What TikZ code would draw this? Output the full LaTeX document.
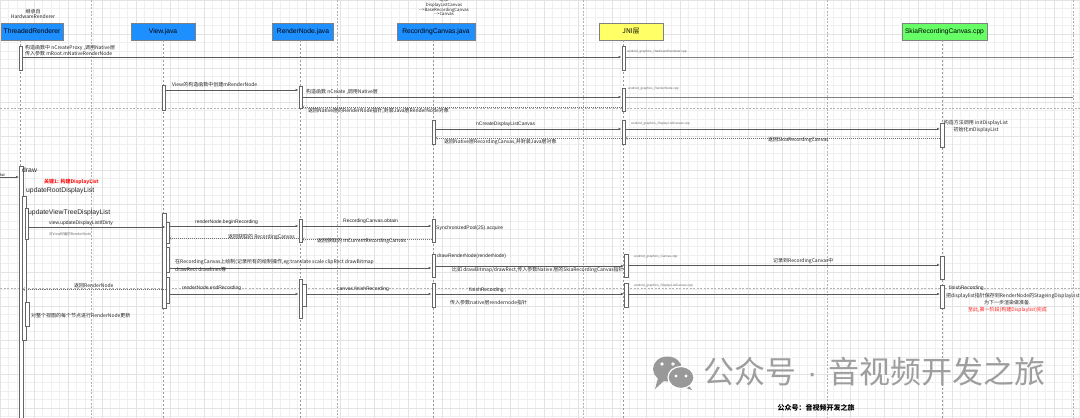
\documentclass[tikz,border=0pt]{standalone}
\usepackage{fontspec}
\setmainfont{Liberation Sans}
\newfontfamily\cjk{Noto Sans CJK SC}
\usetikzlibrary{arrows.meta,positioning}
\definecolor{HeadBlue}{HTML}{1E8FFF}
\definecolor{HeadYellow}{HTML}{FFFF66}
\definecolor{HeadGreen}{HTML}{66FF66}
\definecolor{KeyRed}{HTML}{FF1A1A}
\newcommand\fsz[1]{\fontsize{#1}{#1}\selectfont}

\tikzset{
  head/.style={draw=black!50, minimum height=17pt, inner sep=0pt, font=\fsz{6.7}},
  life/.style={draw=black!40, dash pattern=on 2pt off 2pt, line width=0.4pt},
  pagebreak/.style={draw=black!30, dash pattern=on 2pt off 1.5pt, line width=0.4pt},
  act/.style={draw=black!60, fill=white, minimum width=3.6pt, inner sep=0pt, line width=0.4pt},
  msg/.style={draw=black!65, line width=0.5pt, -{Latex[length=3pt,width=2.4pt]}},
  wire/.style={draw=black!50, line width=0.5pt},
  ret/.style={draw=black!55, dash pattern=on 1pt off 1pt, line width=0.4pt, -{Straight Barb[length=1.6pt,width=3.2pt]}},
  lbl/.style={anchor=west, inner sep=0pt, font={\cjk\fsz{5}}, text=black!85},
  lat/.style={anchor=west, inner sep=0pt, font=\fsz{5}, text=black!85},
  tiny/.style={anchor=west, inner sep=0pt, font=\fsz{3.2}, text=black!60},
  big/.style={anchor=west, inner sep=0pt, font=\fsz{6.8}, text=black!85},
  key/.style={anchor=west, inner sep=0pt, font={\cjk\bfseries\fsz{5}}, text=KeyRed},
}

\begin{document}
\begin{tikzpicture}[x=1pt,y=-1pt,>=Latex]
  \useasboundingbox (0,0) rectangle (1080,418);
  \fill[white] (0,0) rectangle (1080,418);
  % background grid and page breaks
  \draw[black!6, step=8.5pt, line width=0.3pt] (0pt,0pt) grid (1080pt,-418pt);
  \draw[black!11, step=34pt, line width=0.3pt] (0pt,0pt) grid (1080pt,-418pt);
  \foreach \px in {91,337,583,827,1073}
    \draw[pagebreak] (\px,0) -- (\px,418);
  \foreach \py in {108,288}
    \draw[pagebreak] (0,\py) -- (1080,\py);

  % lifeline heads
  \node[head, fill=HeadBlue, minimum width=62pt] (hTR) at (32,31.5) {ThreadedRenderer};
  \node[head, fill=HeadBlue, minimum width=64pt] (hView) at (163,31.5) {View.java};
  \node[head, fill=HeadBlue, minimum width=61pt] (hRN) at (303,31.5) {RenderNode.java};
  \node[head, fill=HeadBlue, minimum width=78pt] (hRC) at (436,31.5) {RecordingCanvas.java};
  \node[head, fill=HeadYellow, minimum width=64pt, font={\cjk\fsz{6.7}}] (hJNI) at (631,31.5) {JNI层};
  \node[head, fill=HeadGreen, minimum width=85pt] (hSkia) at (944.5,31.5) {SkiaRecordingCanvas.cpp};

  \node[font={\cjk\fsz{5}}, align=center, inner sep=0pt, text=black!85] (extTR) at (33,13.5) {继承自\\HardwareRenderer};
  \node[font={\cjk\fsz{4.3}}, align=center, inner sep=0pt, text=black!85] (extRC) at (444,7) {继承\\DisplayListCanvas\\-->BaseRecordingCanvas\\-->Canvas};

  % lifelines
  \coordinate (lTR) at (20.5,40);
  \draw[life] (lTR) -- (20.5,418);
  \foreach \h/\lx in {hView/163.5,hRN/300.5,hRC/433.5,hJNI/623.5,hSkia/942}
    \draw[life] (\lx,40) -- (\lx,418);

  % activations
  \node[act, minimum height=24pt] (trA) at (20.5,58) {};
  \node[act, minimum height=254pt] (trB) at (21,293) {};
  \node[act, minimum height=144pt] (trC) at (24,268) {};
  \node[act, minimum height=31pt] (trD) at (26.5,223.5) {};
  \node[act, minimum height=24pt] (trE) at (27,314) {};

  \node[act, minimum height=25pt] (vA) at (163.5,97.5) {};
  \node[act, minimum height=95pt] (vB) at (164,260.5) {};
  \node[act, minimum height=21pt] (vC) at (167.5,232.5) {};
  \node[act, minimum height=25pt] (vD) at (167.5,259.5) {};
  \node[act, minimum height=26pt] (vE) at (167.5,290) {};

  \node[act, minimum height=22pt] (rA) at (300.5,97) {};
  \node[act, minimum height=23pt] (rB) at (300.5,230.5) {};
  \node[act, minimum height=39pt] (rC) at (300.5,298.5) {};
  \node[act, minimum height=22pt] (rD) at (304,295) {};

  \node[act, minimum height=24pt] (cA) at (433.5,132) {};
  \node[act, minimum height=23pt] (cB) at (433.5,230.5) {};
  \node[act, minimum height=23pt] (cC) at (433.5,265.5) {};
  \node[act, minimum height=24pt] (cD) at (433.5,295) {};

  \node[act, minimum height=24pt] (jA) at (623.5,58) {};
  \node[act, minimum height=23pt] (jB) at (623.5,99.5) {};
  \node[act, minimum height=24pt] (jC) at (623.5,132) {};
  \node[act, minimum height=23pt] (jD) at (626,265.5) {};
  \node[act, minimum height=24pt] (jE) at (626,295) {};

  \node[act, minimum height=24pt] (sA) at (942,135) {};
  \node[act, minimum height=23pt] (sB) at (942,267.5) {};
  \node[act, minimum height=23pt] (sC) at (942,296.5) {};

  % construction
  \coordinate (edgeA) at (1073,57);
  \coordinate (edgeB) at (1073,97);
  \draw[msg] (trA.east |- 0,57) -- (jA.west |- 0,57);
  \draw[wire] (jA.east |- edgeA) -- (edgeA);
  \node[lbl] (m1a) at (25,48) {构造函数中 nCreateProxy ,调用Native层};
  \node[lbl] (m1b) at (25,54) {传入参数 mRoot.mNativeRenderNode};
  \node[tiny] (jniA) at (627,52) {android\_graphics\_HardwareRenderer.cpp};

  \draw[msg] (vA.east |- 0,90) -- (rA.west |- 0,90);
  \node[lbl] (m2) at (172,85) {View的构造函数中创建mRenderNode};
  \draw[msg] (rA.east |- 0,97) -- (jB.west |- 0,97);
  \draw[wire] (jB.east |- edgeB) -- (edgeB);
  \node[lbl] (m3) at (306,92) {构造函数 nCreate ,调用Native层};
  \node[tiny] (jniB) at (628,89) {android\_graphics\_RenderNode.cpp};
  \draw[ret] (jB.west |- 0,107) -- (rA.east |- 0,107);
  \node[lbl] (m4) at (308,111) {返回Native层的RenderNode指针,封装Java层RenderNode对象};

  \draw[msg] (cA.east |- 0,129) -- (jC.west |- 0,129);
  \draw[msg] (jC.east |- 0,129) -- (sA.west |- 0,129);
  \node[lat] (m5) at (476,124) {nCreateDisplayListCanvas};
  \node[tiny] (jniC) at (631,124) {android\_graphics\_DisplayListCanvas.cpp};
  \node[font={\cjk\fsz{5}}, align=center, inner sep=0pt, text=black!85] (skiaInit) at (976,126.5) {构造方法调用 initDisplayList\\初始化mDisplayList};
  \draw[ret] (sA.west |- 0,138) -- (jC.east |- 0,138);
  \node[lbl] (m6) at (768,140) {返回SkiaRecordingCanvas};
  \draw[ret] (jC.west |- 0,138) -- (cA.east |- 0,138);
  \node[lbl] (m7) at (444,142) {返回Native层RecordingCanvas,并封装Java层对象};

  % draw
  \coordinate (drawIn) at (0,177);
  \draw[msg] (drawIn) -- (trB.west |- drawIn);
  \node[lat, anchor=east, font=\fsz{4.5}] (drawLbl) at (5,174.5) {draw};
  \node[big] (drawTxt) at (22,170) {draw};
  \node[key] (key1) at (44,182) {关键1: 构建DisplayList};
  \node[big] (rootTxt) at (26,190.5) {updateRootDisplayList};
  \node[big] (treeTxt) at (28,213) {updateViewTreeDisplayList};

  \draw[msg] (trD.east |- 0,227) -- (vC.west |- 0,227);
  \node[lat] (m9) at (49,223) {view.updateDisplayListIfDirty};
  \node[lbl, font={\cjk\fsz{3.5}}, text=black!60] (m9b) at (49,234) {对View树遍历RenderNode};

  \draw[msg] (vC.east |- 0,226) -- (rB.west |- 0,226);
  \node[lat] (m10) at (195,222) {renderNode.beginRecording};
  \draw[msg] (rB.east |- 0,226) -- (cB.west |- 0,226);
  \node[lat] (m11) at (343,221.5) {RecordingCanvas.obtain};
  \node[lat] (pool) at (436,228) {SynchronizedPool(25).acquire};
  \draw[ret] (cB.west |- 0,239) -- (rB.east |- 0,239);
  \node[lbl] (m12) at (317,241) {返回获取的 mCurrentRecordingCanvas};
  \draw[ret] (rB.west |- 0,238) -- (vC.east |- 0,238);
  \node[lbl] (m13) at (228,237) {返回获取的 RecordingCanvas};

  \draw[msg] (vD.east |- 0,268) -- (cC.west |- 0,268);
  \node[lbl] (m14a) at (175,262) {在RecordingCanvas上绘制(记录所有的绘制操作,eg:translate scale clipRect drawBitmap};
  \node[lbl] (m14b) at (175,270) {drawRect drawlines等};
  \draw[msg] (cC.east |- 0,266) -- (jD.west |- 0,266);
  \node[lat] (m15a) at (437,256) {drawRenderNode(renderNode)};
  \node[lbl] (m15b) at (452,270) {比如 drawBitmap/drawRect,传入参数Native 层的SkiaRecordingCanvas指针};
  \node[tiny] (jniD) at (634,257) {android\_graphics\_Canvas.cpp};
  \draw[msg] (jD.east |- 0,265) -- (sB.west |- 0,265);
  \node[lbl] (m16) at (773,261) {记录到RecordingCanvas中};

  % end recording
  \draw[ret] (vE.west |- 0,289) -- (trB.east |- 0,289);
  \node[lbl] (m17) at (74,286) {返回RenderNode};
  \draw[msg] (vE.east |- 0,294) -- (rC.west |- 0,294);
  \node[lat] (m18) at (182,288) {renderNode.endRecording};
  \draw[msg] (rD.east |- 0,294) -- (cD.west |- 0,294);
  \node[lat] (m19) at (337,289.5) {canvas.finishRecording};
  \draw[msg] (cD.east |- 0,294) -- (jE.west |- 0,294);
  \node[lat] (m20a) at (469,290) {finishRecording ,};
  \node[lbl] (m20b) at (450,303) {传入参数native层rendernode指针};
  \node[tiny] (jniE) at (634,286) {android\_graphics\_DisplayListCanvas.cpp};
  \draw[msg] (jE.east |- 0,294) -- (sC.west |- 0,294);
  \node[lat] (m21) at (949,288) {finishRecording};
  \node[lbl] (m21b) at (946,296) {把displaylist指针保存到RenderNode的StageingDisplayList};
  \node[lbl] (m21c) at (984,303) {为下一步渲染做准备.};
  \node[key, font={\cjk\fsz{5}}] (done) at (968,309.5) {至此,第一阶段(构建Displaylist)完成};

  \node[lbl] (m22) at (31,315.5) {对整个视图的每个节点进行RenderNode更新};

  % watermark
  \fill[black!40] (667.5,369) ellipse (14.5 and 12.5);
  \fill[black!40] (658,378) -- (655,389) -- (665,380) -- cycle;
  \fill[black!40] (688,384) -- (692,390) -- (683,387) -- cycle;
  \draw[white, line width=1.2pt, fill=black!40] (681,377.5) ellipse (13 and 11);
  \foreach \ex/\ey/\er in {662/364/1.9,673/364/1.9,676/376/1.6,686/376/1.6}
    \fill[white] (\ex,\ey) circle (\er);
  \node[anchor=west, inner sep=0pt, font={\cjk\fsz{31}}, text=black!38] (wmText) at (703,372) {公众号{\rmfamily\hspace{0.35em}·\hspace{0.35em}}音视频开发之旅};
  \node[inner sep=0pt, font={\cjk\bfseries\fsz{7}}] (wmName) at (816,408) {公众号：音视频开发之旅};
\end{tikzpicture}
\end{document}
